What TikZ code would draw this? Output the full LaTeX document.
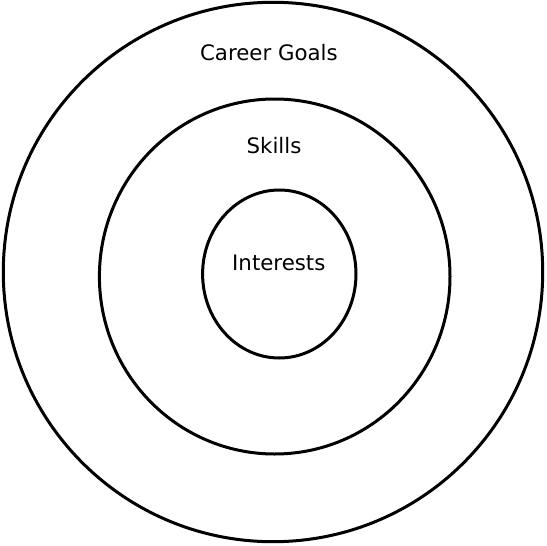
\documentclass[tikz,border=0pt]{standalone}
\usepackage{fontspec}
\setmainfont{DejaVu Sans}
\usetikzlibrary{shapes.geometric}
\begin{document}
\begin{tikzpicture}[x=1pt,y=-1pt,
  ring/.style={draw=black,line width=3pt,ellipse,inner sep=0pt,outer sep=0pt},
  lbl/.style={anchor=base,inner sep=0pt,font=\fontsize{21.3}{24}\selectfont}]
\useasboundingbox (0,0) rectangle (546,546);
\node[ring,minimum width=539.4pt,minimum height=539.4pt] (outer) at (273,272) {};
\node[ring,minimum width=350.6pt,minimum height=355pt] (middle) at (274.7,276.5) {};
\node[ring,minimum width=153.4pt,minimum height=168pt] (inner) at (279.3,274) {};
\node[lbl] (career) at (268.9,60) {Career Goals};
\node[lbl] (skills) at (274,153.3) {Skills};
\node[lbl] (interests) at (278.8,270) {Interests};
\end{tikzpicture}
\end{document}
